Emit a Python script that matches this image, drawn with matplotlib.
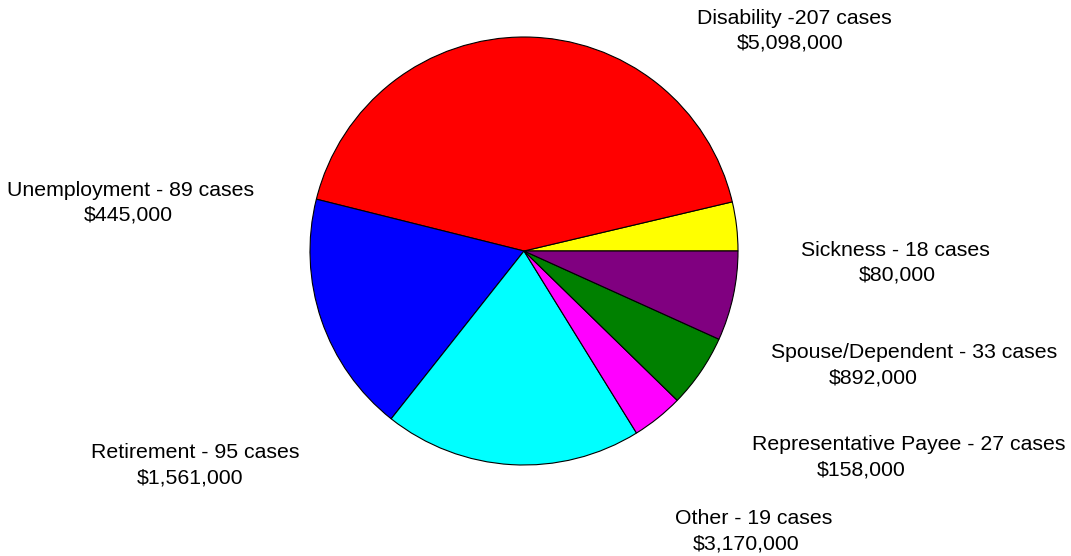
import matplotlib.pyplot as plt

# slices in drawing order (counter-clockwise from 3 o'clock)
names = ["Sickness", "Disability", "Unemployment", "Retirement",
         "Other", "Representative Payee", "Spouse/Dependent"]
cases = [18, 207, 89, 95, 19, 27, 33]
amounts = ["$80,000", "$5,098,000", "$445,000", "$1,561,000",
           "$3,170,000", "$158,000", "$892,000"]
colors = ["#ffff00", "#ff0000", "#0000ff", "#00ffff",
          "#ff00ff", "#008000", "#800080"]

# label placement in figure pixels: (x line1, x line2, y line1 from top)
label_pos = [(895, 897, 250), (794, 790, 18), (131, 128, 190),
             (195, 190, 453), (754, 746, 519), (909, 861, 445),
             (914, 873, 353)]

W, H = 1071, 556
fig = plt.figure(figsize=(W / 100, H / 100), dpi=100)
ax = fig.add_axes([0, 0, 1, 1])

ax.pie(cases, colors=colors, startangle=0, counterclock=True,
       center=(524, H - 251), radius=214, frame=True,
       wedgeprops=dict(edgecolor="black", linewidth=0.8))
ax.set_xlim(0, W)
ax.set_ylim(0, H)
ax.axis("off")

for name, n, amt, (x1, x2, y) in zip(names, cases, amounts, label_pos):
    first = f"{name} -{n} cases" if name == "Disability" else f"{name} - {n} cases"
    ax.text(x1, H - y, first, ha="center", va="center",
            fontsize=15.3, family="Liberation Sans")
    ax.text(x2, H - y - 25, amt, ha="center", va="center",
            fontsize=15.3, family="Liberation Sans")

fig.savefig("out.png", dpi=100)
